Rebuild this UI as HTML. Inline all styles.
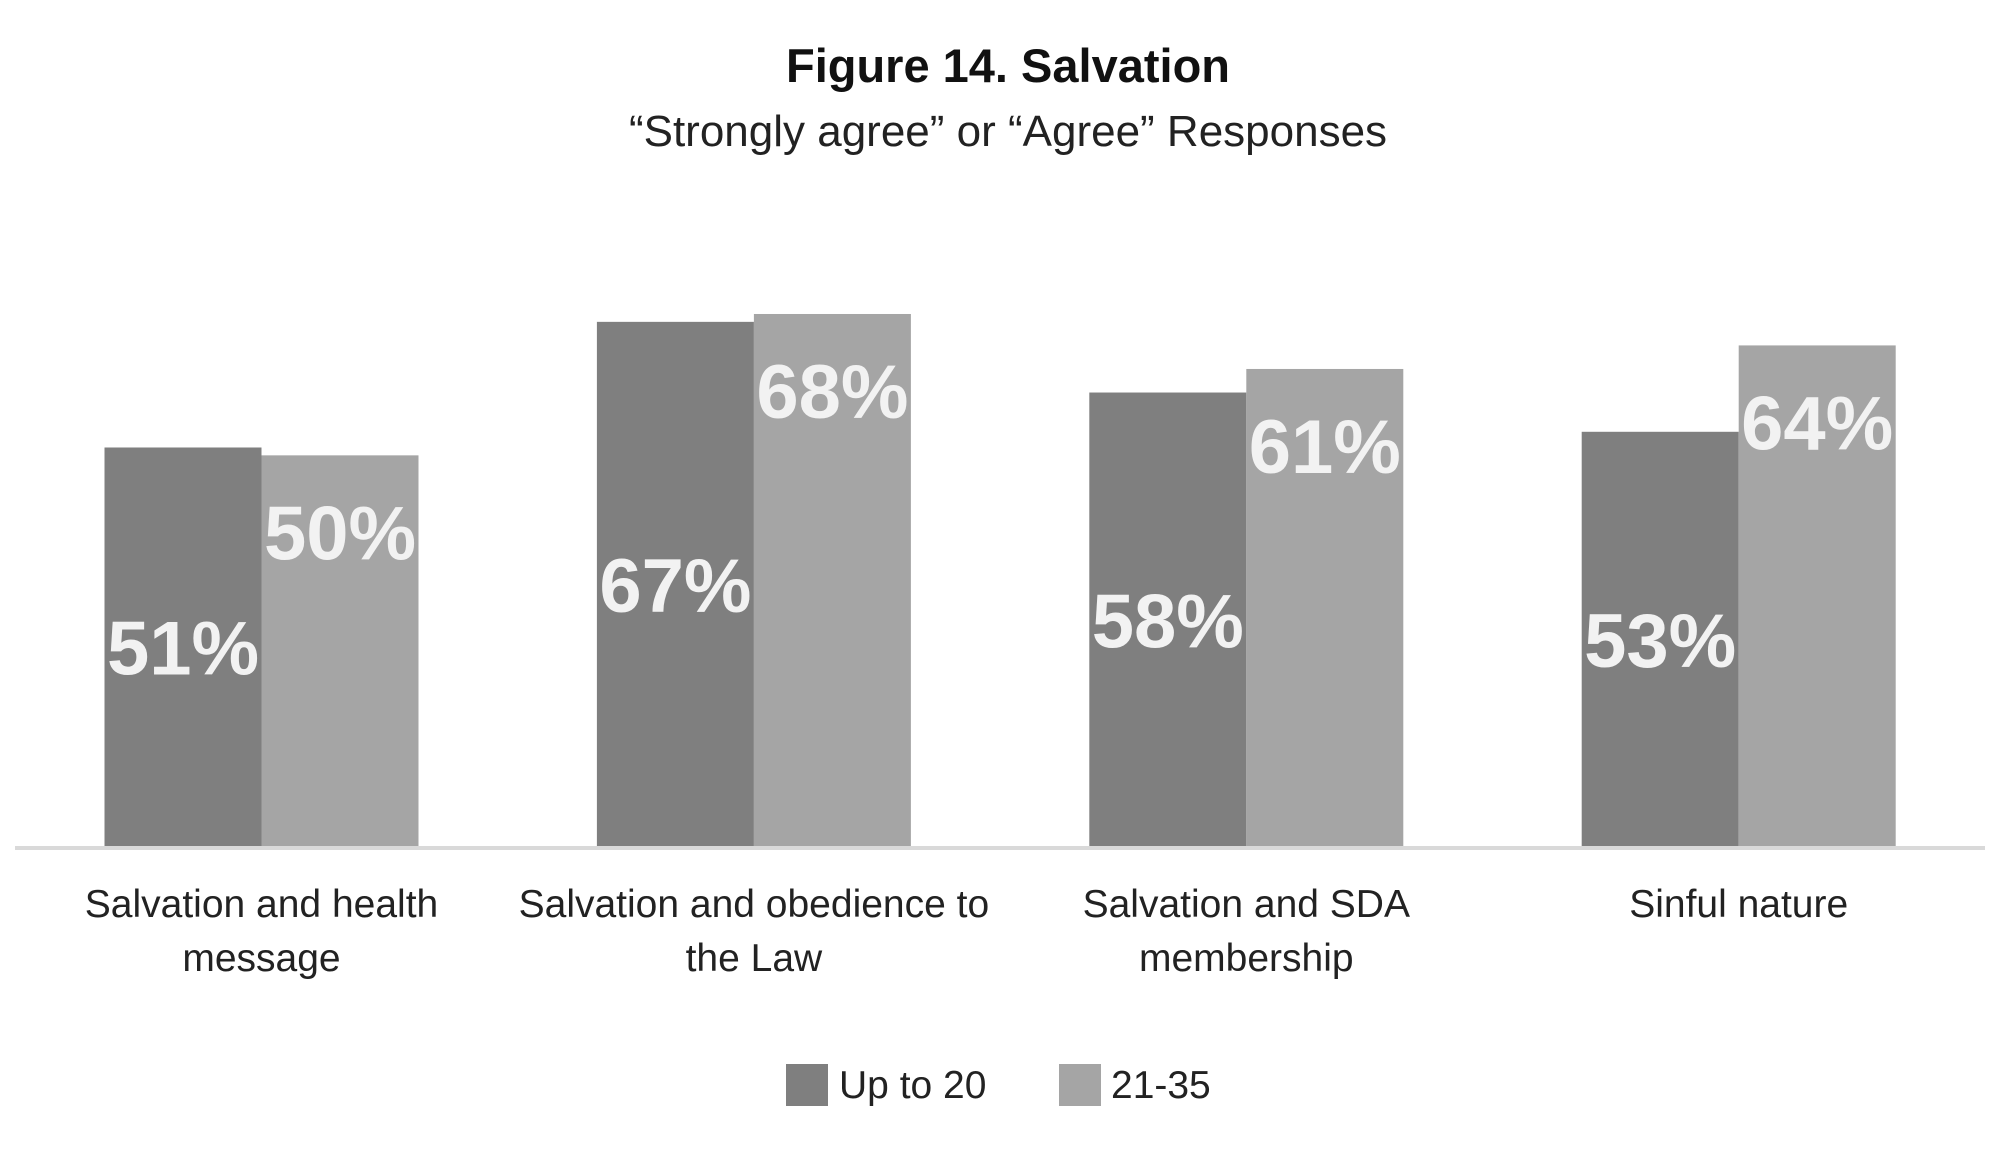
<!DOCTYPE html>
<html><head><meta charset="utf-8"><style>
body{margin:0;background:#fff;}
svg{display:block;font-family:"Liberation Sans",sans-serif;}
</style></head><body>
<svg id="chart" width="2000" height="1174" viewBox="0 0 2000 1174">
<text x="1008" y="82" text-anchor="middle" font-size="47" font-weight="bold" fill="#111">Figure 14. Salvation</text>
<text x="1008" y="146" text-anchor="middle" font-size="44" fill="#222">“Strongly agree” or “Agree” Responses</text>
<g id="bars"></g>
<line x1="15" y1="848" x2="1985" y2="848" stroke="#d9d9d9" stroke-width="4"/>
<g id="cats"></g>
<rect x="786" y="1064" width="42" height="42" fill="#7f7f7f"/>
<text x="839" y="1098" font-size="39" fill="#222">Up to 20</text>
<rect x="1059" y="1064" width="42" height="42" fill="#a5a5a5"/>
<text x="1111" y="1098" font-size="39" fill="#222">21-35</text>
</svg>
<script>
const categories = [["Salvation and health","message"],["Salvation and obedience to","the Law"],["Salvation and SDA","membership"],["Sinful nature"]];
const seriesUpTo20 = [51,67,58,53];
const series21to35 = [50,68,61,64];
const NS="http://www.w3.org/2000/svg";
const baseY=848, pxPer=7.853, barW=157;
function y(v){return baseY - v*pxPer;}
function groupCenter(i){return 261.5 + i*492.4;}
const bars=document.getElementById('bars'), cats=document.getElementById('cats');
function mk(tag,attrs,parent){const e=document.createElementNS(NS,tag);for(const k in attrs)e.setAttribute(k,attrs[k]);parent.appendChild(e);return e;}
categories.forEach((c,i)=>{
  const cx=groupCenter(i);
  const v1=seriesUpTo20[i], v2=series21to35[i];
  const r1=mk('rect',{x:cx-barW,y:y(v1),width:barW,height:v1*pxPer,fill:'#7f7f7f'},bars);
  
  
  const r2=mk('rect',{x:cx,y:y(v2),width:barW,height:v2*pxPer,fill:'#a5a5a5'},bars);
  
  
  const t1=mk('text',{x:cx-barW/2,y:(y(v1)+baseY)/2+27,'text-anchor':'middle','font-size':76,'font-weight':'bold',fill:'#f2f2f2'},bars);
  t1.textContent=v1+'%';
  
  
  const t2=mk('text',{x:cx+barW/2,y:y(v2)+104,'text-anchor':'middle','font-size':76,'font-weight':'bold',fill:'#f2f2f2'},bars);
  t2.textContent=v2+'%';
  
  
  c.forEach((line,j)=>{
    const t=mk('text',{x:cx,y:917+j*54,'text-anchor':'middle','font-size':39,fill:'#222'},cats);
    t.textContent=line;
    
    
  });
});
</script>
</body></html>
